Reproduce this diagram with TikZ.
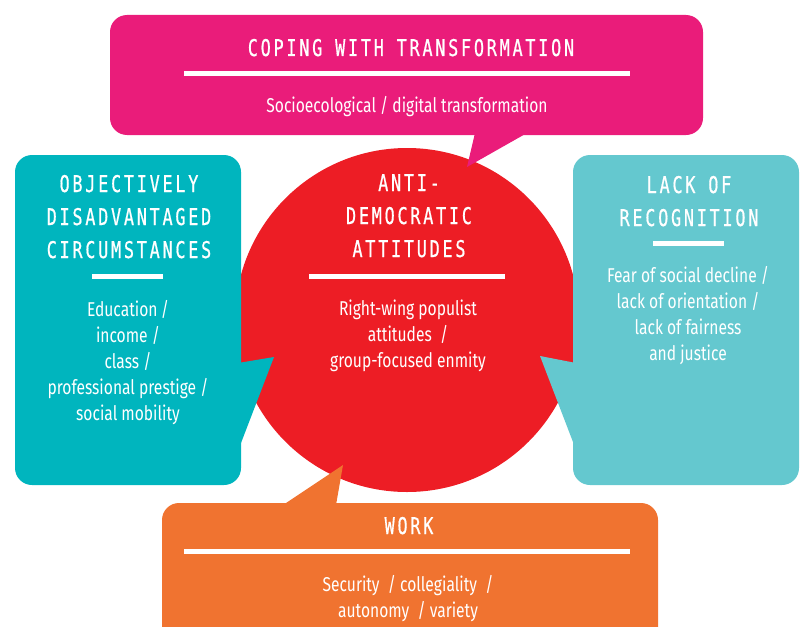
\documentclass[tikz,border=0pt]{standalone}
\usepackage{fontspec}
\setmainfont[FakeStretch=0.78]{Fira Sans}
\newfontfamily\titlefont[FakeStretch=0.73,LetterSpace=12,FakeBold=0.6]{DejaVu Sans Mono}
\definecolor{magentaC}{RGB}{234,28,122}
\definecolor{tealL}{RGB}{0,181,190}
\definecolor{tealR}{RGB}{100,200,207}
\definecolor{redC}{RGB}{237,29,37}
\definecolor{orangeC}{RGB}{240,115,48}
\begin{document}
\begin{tikzpicture}[x=1pt,y=-1pt,
  box/.style={rounded corners=17pt, inner sep=0pt, draw=none},
  ttl/.style={text=white, font=\titlefont\fontsize{23}{33}\selectfont, align=center, inner sep=0pt, anchor=base},
  bdy/.style={text=white, font=\fontsize{20}{26}\selectfont, align=center, inner sep=0pt, anchor=base},
  bar/.style={white, line width=5pt}]
\useasboundingbox (0,0) rectangle (805,626);
\clip (0,0) rectangle (805,626);
% central circle
\node[circle, fill=redC, minimum size=344pt, inner sep=0pt] (core) at (407,320) {};
% boxes
\node[box, fill=magentaC, minimum width=593pt, minimum height=120pt] (topbox) at (406.5,75) {};
\node[box, fill=tealL, minimum width=226pt, minimum height=330pt] (leftbox) at (128,320) {};
\node[box, fill=tealR, minimum width=226pt, minimum height=330pt] (rightbox) at (686,320) {};
\node[box, fill=orangeC, minimum width=496pt, minimum height=150pt] (botbox) at (410,578) {};
% tails
\fill[magentaC] (475,133) -- (467,167) -- (527,133) -- cycle;
\fill[tealL] (238,363) -- (274,357) -- (241,443) -- (238,443) -- cycle;
\fill[tealR] (576,363) -- (540,356) -- (573,442) -- (576,442) -- cycle;
\fill[orangeC] (283,505) -- (343,465) -- (336,505) -- cycle;
% top
\node[ttl] (toptitle) at (411,56) {COPING WITH TRANSFORMATION};
\draw[bar] (184,73.5) -- (630,73.5);
\node[bdy] (topbody) at (407,112) {Socioecological / digital transformation};
% center (base anchor = last line)
\node[ttl] (coretitle) at (409,257) {ANTI-\\DEMOCRATIC\\ATTITUDES};
\draw[bar] (309,276) -- (505,276);
\node[bdy] (corebody) at (408,367) {Right-wing populist\\attitudes~~/\\group-focused enmity};
% left
\node[ttl] (lefttitle) at (129,258) {OBJECTIVELY\\DISADVANTAGED\\CIRCUMSTANCES};
\draw[bar] (92,276) -- (163,276);
\node[bdy] (leftbody) at (128,420) {Education\,/\\income /\\class /\\professional prestige /\\social mobility};
% right
\node[ttl] (righttitle) at (689,226) {LACK OF\\RECOGNITION};
\draw[bar] (653,243) -- (724,243);
\node[bdy] (rightbody) at (688,360) {Fear of social decline /\\lack of orientation /\\lack of fairness\\and justice};
% bottom
\node[ttl] (bottitle) at (409,534) {WORK};
\draw[bar] (184,551) -- (630,551);
\node[bdy] (botbody) at (408,617) {Security~~/ collegiality~~/\\autonomy~~/ variety};
\end{tikzpicture}
\end{document}
